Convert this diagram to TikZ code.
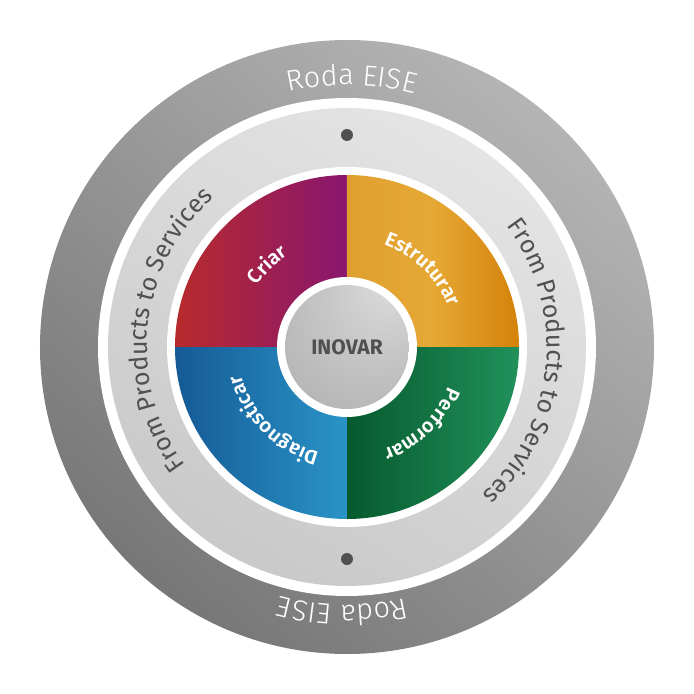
\documentclass[tikz,border=0pt]{standalone}
\usepackage{fontspec}
\setmainfont{Fira Sans}
\newfontfamily\lightface{Fira Sans Light}
\newfontfamily\semiface{Fira Sans SemiBold}
\newfontfamily\heavyface{Fira Sans Bold}
\usetikzlibrary{decorations.text}

% palette
\definecolor{ringlight}{HTML}{B4B4B4}
\definecolor{ringdark}{HTML}{777777}
\definecolor{bandlight}{HTML}{E4E4E4}
\definecolor{banddark}{HTML}{C9C9C9}
\definecolor{criarL}{HTML}{B72B2C}
\definecolor{criarR}{HTML}{89166F}
\definecolor{estrL}{HTML}{DFA030}
\definecolor{estrM}{HTML}{E6A834}
\definecolor{estrR}{HTML}{D4820A}
\definecolor{perfL}{HTML}{065A2D}
\definecolor{perfR}{HTML}{21915A}
\definecolor{diagL}{HTML}{155A96}
\definecolor{diagR}{HTML}{2A94C7}
\definecolor{ballhi}{HTML}{DCDCDC}
\definecolor{ballmid}{HTML}{C6C6C6}
\definecolor{balllo}{HTML}{A6A6A6}
\definecolor{inkgrey}{HTML}{505050}

\pgfdeclareradialshading{ballshade}{\pgfpoint{18bp}{26bp}}{%
  color(0bp)=(ballhi); color(22bp)=(ballmid); color(60bp)=(balllo); color(80bp)=(balllo)}

% text set along a clockwise arc, centred on a given angle
% #1 radius, #2 centre angle, #3 font/colour, #4 text
\newcommand\curvedlabel[4]{%
  \path[decorate,decoration={text along path,text align=center,
      text={|#3|#4}}]
    (#2+85:#1) arc[start angle=#2+85,end angle=#2-85,radius=#1];}

\begin{document}
\begin{tikzpicture}
\useasboundingbox (-347pt,-347pt) rectangle (347pt,347pt);

% outer grey ring
\shade[top color=ringlight,bottom color=ringdark,shading angle=-40]
  (0,0) circle (307pt);
\fill[white] (0,0) circle (249pt);
% light band
\shade[top color=bandlight,bottom color=banddark,shading angle=-30]
  (0,0) circle (239pt);
\fill[white] (0,0) circle (180pt);

% four quadrants
\shade[left color=criarL,right color=criarR]
  (0,0) -- (180:172pt) arc[start angle=180,end angle=90,radius=172pt] -- cycle;
\shade[left color=estrL,right color=estrR,middle color=estrM]
  (0,0) -- (90:172pt) arc[start angle=90,end angle=0,radius=172pt] -- cycle;
\shade[left color=perfL,right color=perfR]
  (0,0) -- (0:172pt) arc[start angle=0,end angle=-90,radius=172pt] -- cycle;
\shade[left color=diagL,right color=diagR]
  (0,0) -- (-90:172pt) arc[start angle=-90,end angle=-180,radius=172pt] -- cycle;

% hub
\fill[white] (0,0) circle (70pt);
\shade[shading=ballshade] (0,0) circle (62pt);
\node[font=\heavyface\fontsize{21}{21}\selectfont,text=inkgrey] (inovar) at (0,0) {INOVAR};

% markers on the light band
\fill[inkgrey] (0,212pt) circle (6pt);
\fill[inkgrey] (0,-212pt) circle (6pt);

% ring texts
\curvedlabel{262pt}{89}{\lightface\fontsize{29}{34}\selectfont\color{white}}{Roda EISE}
\curvedlabel{258pt}{-91}{\lightface\fontsize{29}{34}\selectfont\color{white}}{Roda EISE}
\curvedlabel{200pt}{-5}{\fontsize{25}{30}\selectfont\color{inkgrey}}{From Products to Services}
\curvedlabel{200pt}{174}{\fontsize{25}{30}\selectfont\color{inkgrey}}{From Products to Services}

% quadrant labels
\curvedlabel{109pt}{134}{\semiface\fontsize{20}{24}\selectfont\color{white}}{Criar}
\curvedlabel{109pt}{46}{\semiface\fontsize{20}{24}\selectfont\color{white}}{Estruturar}
\curvedlabel{109pt}{-46}{\semiface\fontsize{20}{24}\selectfont\color{white}}{Performar}
\curvedlabel{109pt}{-135}{\semiface\fontsize{20}{24}\selectfont\color{white}}{Diagnosticar}
\end{tikzpicture}
\end{document}
